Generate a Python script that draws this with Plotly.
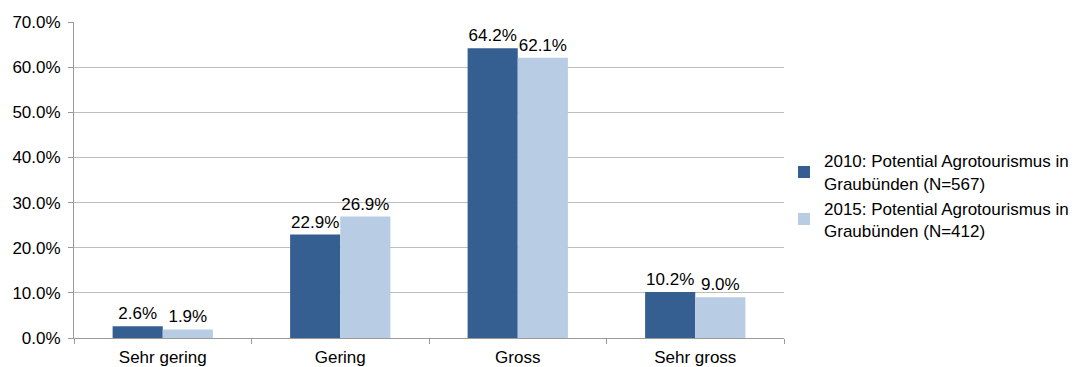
import plotly.graph_objects as go

categories = ["Sehr gering", "Gering", "Gross", "Sehr gross"]
series_2010 = [2.6, 22.9, 64.2, 10.2]
series_2015 = [1.9, 26.9, 62.1, 9.0]
name_2010 = "2010: Potential Agrotourismus in<br>Graubünden (N=567)"
name_2015 = "2015: Potential Agrotourismus in<br>Graubünden (N=412)"
y_ticks = [0, 10, 20, 30, 40, 50, 60, 70]

font_family = "Liberation Sans, Arial, sans-serif"
font_size = 17

fig = go.Figure()
for name, vals, color in [
    (name_2010, series_2010, "#365F91"),
    (name_2015, series_2015, "#B8CCE4"),
]:
    fig.add_trace(go.Bar(
        x=categories, y=vals, name=name,
        marker=dict(color=color, line=dict(width=0)),
        text=[f"{v:.1f}%" for v in vals],
        textposition="outside", cliponaxis=False,
        textfont=dict(size=font_size, color="#000000", family=font_family),
    ))

fig.update_layout(
    width=1088, height=367,
    margin=dict(l=74, r=304, t=22, b=29, autoexpand=False),
    paper_bgcolor="white", plot_bgcolor="white",
    barmode="group", bargap=0.435, bargroupgap=0,
    font=dict(family=font_family, size=font_size, color="#000000"),
    showlegend=True,
    legend=dict(
        x=1.0, y=0.45, xanchor="left", yanchor="middle",
        font=dict(size=font_size, family=font_family),
        tracegroupgap=0,
        bgcolor="rgba(0,0,0,0)",
    ),
    uniformtext=dict(mode=False),
)
fig.update_xaxes(
    showline=True, linecolor="#9A9A9A", linewidth=1,
    ticks="outside", tickson="boundaries", ticklen=5, tickcolor="#9A9A9A",
    tickfont=dict(size=font_size), showgrid=False, automargin=False,
    ticklabelstandoff=4,
)
fig.update_yaxes(
    range=[0, 70], tickvals=y_ticks,
    ticktext=[f"{v:.1f}%" for v in y_ticks],
    showline=True, linecolor="#9A9A9A", linewidth=1,
    ticks="outside", ticklen=5, tickcolor="#9A9A9A",
    showgrid=True, gridcolor="#BEBEBE", gridwidth=1,
    tickfont=dict(size=font_size), zeroline=False,
    ticklabelstandoff=4, automargin=False,
)

fig.write_html("out.html")
